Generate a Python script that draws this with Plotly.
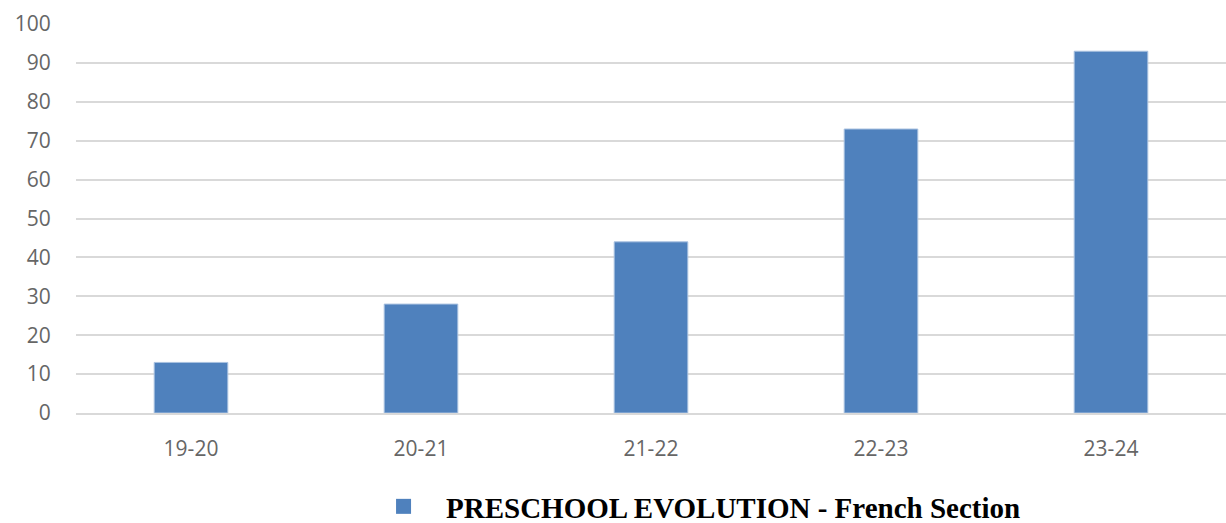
import plotly.graph_objects as go

categories = ["19-20", "20-21", "21-22", "22-23", "23-24"]
values = [13, 28, 44, 73, 93]
series_name = "PRESCHOOL EVOLUTION - French Section"
y_ticks = [0, 10, 20, 30, 40, 50, 60, 70, 80, 90, 100]
bar_color = "#4f81bd"

fig = go.Figure()
fig.add_trace(go.Bar(
    x=categories, y=values, name=series_name,
    marker=dict(color=bar_color, line=dict(color="#a9c1e0", width=1)),
    showlegend=False,
))
# legend entry with a larger square swatch
fig.add_trace(go.Scatter(
    x=[None], y=[None], mode="markers", name=series_name,
    marker=dict(symbol="square", size=15, color=bar_color),
    showlegend=True,
))

fig.update_layout(
    width=1226, height=523,
    margin=dict(l=76, r=0, t=24, b=110),
    plot_bgcolor="white", paper_bgcolor="white",
    bargap=0.68,
    showlegend=True,
    legend=dict(
        orientation="h", x=0.537, xanchor="center",
        yref="container", y=0.0, yanchor="bottom",
        font=dict(family="Liberation Serif", size=29, color="#000000", weight="bold"),
        itemwidth=75,
    ),
    font=dict(family="Open Sans", color="#595959"),
)
fig.update_yaxes(
    range=[0, 100], tickvals=y_ticks, showgrid=True, gridcolor="#d9d9d9", gridwidth=1.5,
    zeroline=False, showline=False, ticks="outside", ticklen=20, tickcolor="rgba(0,0,0,0)",
    tickfont=dict(size=21, color="#666666"), automargin=False,
)
fig.update_xaxes(
    showline=True, linecolor="#d9d9d9", linewidth=1.5, showgrid=False,
    ticks="outside", ticklen=16, tickcolor="rgba(0,0,0,0)",
    tickfont=dict(size=21, color="#666666"), automargin=False,
)
# nudge the legend group down slightly after render
post = """
document.body.style.margin='0';
var gd = document.querySelector('.plotly-graph-div');
var lg = gd.querySelector('g.legend');
if (lg) {
  var t = lg.getAttribute('transform') || '';
  var m = t.match(/translate\\(([-\\d.]+),\\s*([-\\d.]+)\\)/);
  if (m) { lg.setAttribute('transform', 'translate(' + m[1] + ',' + (parseFloat(m[2]) + 9) + ')'); }
}
"""
fig.write_html("out.html", config={"displayModeBar": False}, post_script=post)
